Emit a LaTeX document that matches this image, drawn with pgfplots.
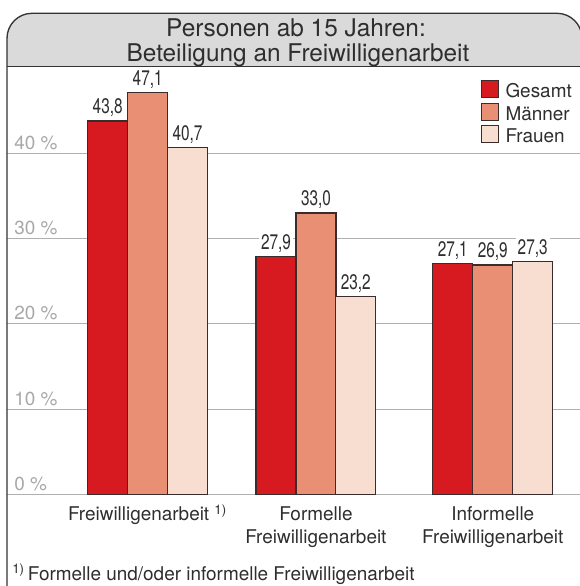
\documentclass[border=0pt]{standalone}
\usepackage{fontspec}
\setmainfont{TeX Gyre Heros}
\usepackage{graphicx}
\usepackage{pgfplots}
\pgfplotsset{compat=1.18}
\definecolor{cG}{HTML}{D71920}
\definecolor{cM}{HTML}{E88F74}
\definecolor{cF}{HTML}{F8DDD1}
\definecolor{txt}{HTML}{2E2E2E}
\definecolor{grd}{HTML}{B0B0B0}
\definecolor{tick}{HTML}{A8A8A8}
\definecolor{tbg}{HTML}{DADADA}
\definecolor{frm}{HTML}{333333}
\definecolor{outl}{HTML}{3A2C2C}
\newcommand\axfont{\fontsize{14.2pt}{16.75pt}\selectfont}
\newcommand\titlefont{\fontsize{18.3pt}{21pt}\selectfont}
\newcommand\valfont{\fontsize{15.8pt}{18pt}\selectfont}
\begin{document}
\begin{tikzpicture}[x=0.75pt,y=-0.75pt]
\useasboundingbox (0,0) rectangle (580,586);
\clip (0,0) rectangle (580,586);
\fill[tbg, rounded corners=18.75pt] (7,13.3) rectangle (582,120);
\fill[white] (7,66.7) rectangle (583,130);
\begin{axis}[
  at={(5.25pt,-370.725pt)}, anchor=south west,
  scale only axis, width=429.75pt, height=320.7pt,
  xmin=7, xmax=580, ymin=0, ymax=50.16,
  axis line style={draw=none}, tick style={draw=none},
  major tick length=0pt,
  /pgf/number format/assume math mode=true,
  ytick={0,10,20,30,40}, ymajorgrids, grid style={grd, line width=0.8pt},
  yticklabel={\pgfmathprintnumber{\tick}~\%},
  yticklabel style={anchor=base west, xshift=5.25pt, yshift=3pt, inner sep=0pt, font=\axfont, text=tick},
  xtick={147.5,315.9,492.8},
  xticklabels={{Freiwilligenarbeit \textsuperscript{1)}\\\strut},{Formelle\\Freiwilligenarbeit},{Informelle\\Freiwilligenarbeit}},
  xticklabel style={anchor=base, align=center, yshift=-36.75pt, inner sep=0pt, font=\axfont, text=txt},
  legend style={at={(0.8272,0.9689)}, anchor=north west, draw=none, fill=none, inner sep=0pt, outer sep=0pt, row sep=0pt, font=\axfont, text=txt, nodes={inner sep=0pt, text height=12.75pt, text depth=3.75pt}},
  legend cell align=left,
  legend style={cells={anchor=base west}},
  legend image code/.code={\draw[#1, line width=0.9pt] (0pt,0pt) rectangle (12.75pt,12.75pt); \path (17.5pt,0pt);},
  nodes near coords={\scalebox{0.73}[1]{\pgfmathprintnumber[fixed,fixed zerofill,precision=1,use comma]{\pgfplotspointmeta}}},
  nodes near coords style={anchor=south, fill=white, inner sep=1.5pt, yshift=1pt, font=\valfont, text=txt},
  clip=false,
]
\addplot[ybar, bar width=40, bar shift=0pt, draw=outl, line width=0.9pt, fill=cG] coordinates {(107.7,43.8) (276,27.9) (452.8,27.1)};
\addlegendentry{Gesamt}
\addplot[ybar, bar width=40, bar shift=0pt, draw=outl, line width=0.9pt, fill=cM] coordinates {(147.7,47.1) (316,33.0) (492.8,26.9)};
\addlegendentry{Männer}
\addplot[ybar, bar width=40, bar shift=0pt, draw=outl, line width=0.9pt, fill=cF] coordinates {(187.5,40.7) (355.8,23.2) (532.7,27.3)};
\addlegendentry{Frauen}
\end{axis}
\draw[frm, line width=1pt, rounded corners=18.75pt] (7,600) -- (7,13.3) -- (582,13.3) -- (582,600);
\draw[frm, line width=1pt] (7,66.7) -- (583,66.7);
\node[anchor=base, inner sep=0pt, font=\titlefont, text=txt] at (296,36.5) {Personen ab 15 Jahren:};
\node[anchor=base, inner sep=0pt, font=\titlefont, text=txt] at (298,61.5) {Beteiligung an Freiwilligenarbeit};
\node[anchor=base west, inner sep=0pt, font=\axfont, text=txt] at (12,580) {\textsuperscript{1)}\,Formelle und/oder informelle Freiwilligenarbeit};
\end{tikzpicture}
\end{document}
